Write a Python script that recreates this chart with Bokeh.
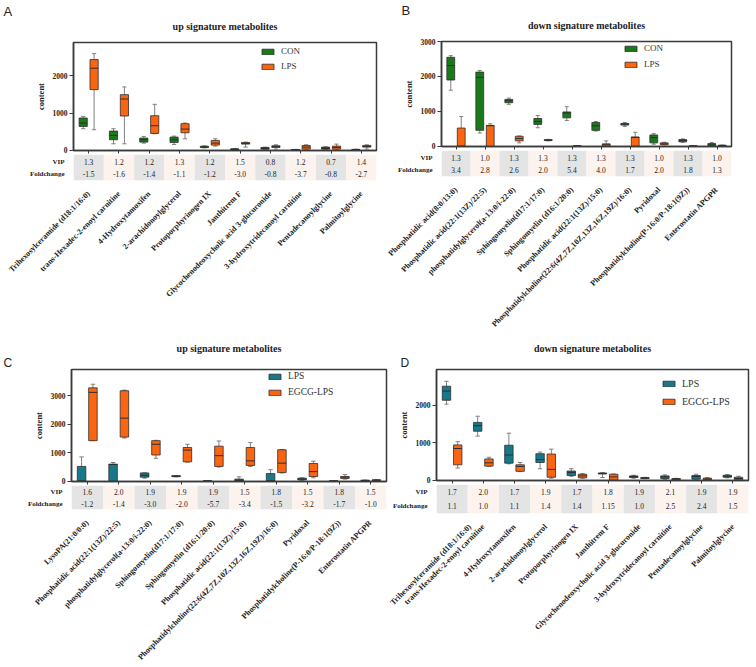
import math
from bokeh.plotting import figure
from bokeh.layouts import column, row
from bokeh.models import (FactorRange, Range1d, FixedTicker, Legend, LegendItem,
                          Title, ColumnDataSource)
from bokeh.core.properties import value
from bokeh.transform import dodge
from bokeh.embed import file_html
from bokeh.resources import INLINE

SERIF = "Liberation Serif"
SANS = "Liberation Sans"
GREEN = "#1a7a1a"
ORANGE = "#fb6512"
TEAL = "#16788a"
EDGE = "#2e2e2e"
WHISK = "#808080"
CELL_A = "#e4e4e4"
CELL_B = "#fcf3ee"

# ---------------- data (min, q1, median, q3, max) ----------------
A_CATS = ["Trihexosylceramide (d18:1/16:0)", "trans-Hexadec-2-enoyl carnitine",
          "4-Hydroxytamoxifen", "2-arachidonoylglycerol", "Protoporphyrinogen IX",
          "Janthitrem F", "Glycochenodeoxycholic acid 3-glucuronide",
          "3-hydroxytridecanoyl carnitine", "Pentadecanoylglycine", "Palmitoylglycine"]
A_CON = [(577, 640, 730, 865, 910), (171, 280, 396, 513, 577), (189, 216, 280, 324, 369),
         (153, 207, 279, 351, 378), (60, 72, 85, 105, 117), (5, 9, 20, 36, 40),
         (20, 27, 50, 72, 80), (2, 5, 8, 15, 20), (9, 27, 45, 81, 90), (5, 10, 15, 20, 25)]
A_LPS = [(550, 1630, 2207, 2440, 2600), (171, 919, 1378, 1495, 1703), (441, 450, 658, 928, 1234),
         (306, 468, 567, 712, 730), (108, 135, 189, 261, 306), (81, 162, 180, 207, 216),
         (27, 72, 99, 117, 144), (9, 27, 81, 126, 144), (9, 27, 72, 108, 162), (27, 81, 99, 126, 144)]
A_VIP = ["1.3", "1.2", "1.2", "1.3", "1.2", "1.5", "0.8", "1.2", "0.7", "1.4"]
A_FC = ["-1.5", "-1.6", "-1.4", "-1.1", "-1.2", "-3.0", "-0.8", "-3.7", "-0.8", "-2.7"]

B_CATS = ["Phosphatidic acid(8:0/13:0)", "Phosphatidic acid(22:1(13Z)/22:5)",
          "phosphatidylglycerol(a-13:0/i-22:0)", "Sphingomyelin(d17:1/17:0)",
          "Sphingomyelin (d16:1/20:0)", "Phosphatidic acid(22:1(13Z)/15:0)",
          "Phosphatidylcholine(22:6(4Z,7Z,10Z,13Z,16Z,19Z)/16:0)", "Pyridoxal",
          "Phosphatidylcholine(P-16:0/P-18:1(9Z))", "Enterostatin APGPR"]
B_CON = [(1604, 1896, 2311, 2547, 2594), (377, 453, 1972, 2123, 2170), (1198, 1245, 1302, 1340, 1377),
         (528, 623, 708, 792, 877), (736, 811, 953, 981, 1132), (434, 453, 585, 679, 708),
         (566, 604, 632, 651, 679), (57, 94, 245, 321, 358), (113, 123, 160, 189, 208), (0, 19, 38, 75, 104)]
B_LPS = [(0, 0, 0, 519, 849), (0, 0, 585, 594, 642), (94, 151, 217, 283, 292),
         (151, 160, 170, 189, 195), (0, 2, 5, 10, 12), (0, 0, 38, 66, 151),
         (0, 0, 250, 264, 396), (38, 38, 66, 94, 113), (0, 2, 5, 8, 10), (5, 9, 20, 28, 30)]
B_VIP = ["1.3", "1.0", "1.3", "1.3", "1.3", "1.3", "1.3", "1.0", "1.3", "1.0"]
B_FC = ["3.4", "2.8", "2.6", "2.0", "5.4", "4.0", "1.7", "2.0", "1.8", "1.3"]

C_CATS = ["LysoPA(21:0/0:0)"] + B_CATS[1:]
C_LPS = [(0, 0, 0, 515, 848), (0, 0, 580, 596, 653), (103, 137, 206, 286, 290),
         (149, 155, 172, 190, 195), (0, 2, 5, 8, 10), (0, 0, 23, 69, 149),
         (0, 0, 10, 263, 401), (23, 40, 70, 103, 115), (0, 2, 4, 6, 8), (11, 15, 23, 30, 34)]
C_EGCG = [(1420, 1420, 3116, 3276, 3402), (1512, 1546, 2211, 3173, 3196), (802, 916, 1294, 1420, 1432),
          (664, 676, 1088, 1180, 1294), (493, 515, 893, 1226, 1409), (515, 550, 710, 1180, 1352),
          (286, 298, 630, 1100, 1111), (115, 160, 332, 619, 699), (69, 92, 137, 160, 229), (11, 15, 30, 46, 50)]
C_VIP = ["1.6", "2.0", "1.9", "1.9", "1.9", "1.5", "1.8", "1.5", "1.8", "1.5"]
C_FC = ["-1.2", "-1.4", "-3.0", "-2.0", "-5.7", "-3.4", "-1.5", "-3.2", "-1.7", "-1.0"]

D_CATS = A_CATS
D_LPS = [(2026, 2130, 2374, 2504, 2635), (1174, 1304, 1452, 1539, 1704), (435, 452, 670, 930, 1252),
         (304, 470, 548, 704, 748), (104, 122, 200, 243, 304), (70, 165, 175, 191, 200),
         (52, 70, 96, 113, 130), (17, 43, 87, 113, 139), (10, 26, 96, 122, 157), (61, 78, 104, 130, 148)]
D_EGCG = [(322, 409, 843, 939, 1026), (365, 374, 461, 565, 609), (226, 235, 365, 409, 470),
          (52, 78, 287, 696, 826), (52, 61, 113, 157, 174), (0, 0, 87, 157, 165),
          (35, 43, 55, 70, 75), (5, 9, 25, 43, 48), (5, 9, 30, 52, 70), (5, 9, 43, 78, 104)]
D_VIP = ["1.7", "2.0", "1.7", "1.9", "1.7", "1.8", "1.9", "2.1", "1.9", "1.9"]
D_FC = ["1.1", "1.0", "1.1", "1.4", "1.4", "1.15", "1.0", "2.5", "2.4", "1.5"]

BW = 0.27   # box width (fraction of a category)
CW = 0.14   # whisker cap width
OFF = 0.18  # group offset


def draw_group(p, cats, stats, off, color):
    src = ColumnDataSource(dict(cat=cats,
                                lo=[s[0] for s in stats], q1=[s[1] for s in stats],
                                med=[s[2] for s in stats], q3=[s[3] for s in stats],
                                hi=[s[4] for s in stats]))
    xr = p.x_range
    xc = dodge("cat", off, range=xr)
    p.segment(x0=xc, y0="lo", x1=xc, y1="hi", source=src, line_color=WHISK, line_width=1)
    for key in ("lo", "hi"):
        p.segment(x0=dodge("cat", off - CW / 2, range=xr), y0=key,
                  x1=dodge("cat", off + CW / 2, range=xr), y1=key,
                  source=src, line_color=WHISK, line_width=1)
    r = p.vbar(x=xc, bottom="q1", top="q3", width=BW, source=src,
               fill_color=color, line_color=EDGE, line_width=0.8)
    p.segment(x0=dodge("cat", off - BW / 2, range=xr), y0="med",
              x1=dodge("cat", off + BW / 2, range=xr), y1="med",
              source=src, line_color=EDGE, line_width=1)
    return r


def make_title(text, align, offset, standoff, font, size, bold):
    return Title(text=text, align=align, offset=offset, standoff=standoff, text_font=font,
                 text_font_size=size, text_font_style="bold" if bold else "normal",
                 text_color="#222222")


def make_panel(letter, title, cats, g1, s1, c1, g2, s2, c2, vip, fc, yr, yticks,
               width, ml, mr, hp, mt, ht, mbt, legend_xy, letter_off, legend_sp, legend_fs,
               letter_inner, title_so, letter_so):
    n = len(cats)
    p = figure(x_range=FactorRange(*cats), y_range=Range1d(*yr), width=width, height=hp,
               output_backend="svg", toolbar_location=None, title_location=None,
               min_border_left=ml, min_border_right=mr, min_border_top=mt, min_border_bottom=4)
    if letter_inner:
        t_let = make_title(letter, "left", letter_off, letter_so, SANS, "12px", False)
        t_main = make_title(title, "center", 0, title_so, SERIF, "10px", True)
        p.add_layout(t_let, "above")
        p.add_layout(t_main, "above")
    else:
        # a blank second line keeps the title lifted above the frame
        t_main = make_title(title + "\n", "center", 0, title_so, SERIF, "10px", True)
        t_let = make_title(letter, "left", letter_off, letter_so, SANS, "13px", False)
        p.add_layout(t_main, "above")
        p.add_layout(t_let, "above")
    p.xgrid.visible = False
    p.ygrid.visible = False
    p.outline_line_color = "#3a3a3a"
    p.outline_line_width = 1.5
    p.background_fill_color = "white"

    ya = p.yaxis[0]
    ya.ticker = FixedTicker(ticks=yticks)
    ya.axis_label = "content"
    ya.axis_label_text_font = SERIF
    ya.axis_label_text_font_style = "bold"
    ya.axis_label_text_font_size = "8.5px"
    ya.axis_label_standoff = 4
    ya.axis_label_text_color = "#222222"
    ya.major_label_text_font = SERIF
    ya.major_label_text_font_style = "bold"
    ya.major_label_text_font_size = "7.5px"
    ya.major_label_text_color = "#222222"
    ya.major_label_standoff = 2
    ya.major_tick_out = 4
    ya.major_tick_in = 0
    ya.minor_tick_out = 0
    ya.minor_tick_in = 0
    ya.axis_line_width = 1.5
    ya.axis_line_color = "#3a3a3a"
    ya.major_tick_line_color = "#3a3a3a"
    ya.major_tick_line_width = 1.2

    # tick marks under each category; the names are shown under the table instead
    xa = p.xaxis[0]
    xa.major_label_text_font_size = "1px"
    xa.major_label_text_color = None
    xa.major_label_standoff = 0
    xa.major_tick_out = 3
    xa.major_tick_in = 0
    xa.axis_line_width = 1.5
    xa.axis_line_color = "#3a3a3a"
    xa.major_tick_line_color = "#3a3a3a"

    r1 = draw_group(p, cats, s1, -OFF, c1)
    r2 = draw_group(p, cats, s2, OFF, c2)

    leg = Legend(items=[LegendItem(label=g1, renderers=[r1]), LegendItem(label=g2, renderers=[r2])],
                 location=legend_xy, orientation="vertical", border_line_color=None,
                 background_fill_alpha=0, padding=0, margin=0, spacing=legend_sp,
                 glyph_width=15, glyph_height=7, label_height=9, label_standoff=6,
                 label_text_font=SERIF, label_text_font_size=legend_fs,
                 label_text_color="#333333", label_text_baseline="middle")
    p.add_layout(leg)

    # table + rotated labels
    t = figure(x_range=p.x_range, y_range=Range1d(0, 2), width=width, height=ht,
               output_backend="svg", toolbar_location=None,
               min_border_left=ml, min_border_right=mr, min_border_top=0, min_border_bottom=mbt)
    t.outline_line_color = None
    t.xgrid.visible = False
    t.ygrid.visible = False
    bg = [CELL_A if i % 2 == 0 else CELL_B for i in range(n)]
    t.vbar(x=cats, bottom=0, top=2, width=1.0, fill_color=bg, line_color=None)
    t.text(x=cats, y=[1.45] * n, text=vip, text_align="center", text_baseline="middle",
           text_font=value(SERIF), text_font_size="7.5px", text_color="#222222")
    t.text(x=cats, y=[0.5] * n, text=fc, text_align="center", text_baseline="middle",
           text_font=value(SERIF), text_font_size="7.5px", text_color="#222222")
    ty = t.yaxis[0]
    ty.ticker = FixedTicker(ticks=[0.5, 1.45])
    ty.major_label_overrides = {0.5: "Foldchange", 1.45: "VIP"}
    ty.axis_line_color = None
    ty.major_tick_line_color = None
    ty.minor_tick_line_color = None
    ty.major_label_standoff = 3
    ty.major_label_text_font = SERIF
    ty.major_label_text_font_style = "bold"
    ty.major_label_text_font_size = "7px"
    ty.major_label_text_color = "#222222"
    tx = t.xaxis[0]
    tx.axis_line_color = None
    tx.major_tick_line_color = None
    tx.major_label_orientation = math.pi / 4
    tx.major_label_standoff = 6
    tx.major_label_text_font = SERIF
    tx.major_label_text_font_style = "bold"
    tx.major_label_text_font_size = "8px"
    tx.major_label_text_color = "#222222"
    return column(p, t)


pa = make_panel("A", "up signature metabolites", A_CATS, "CON", A_CON, GREEN, "LPS", A_LPS, ORANGE,
                A_VIP, A_FC, (-10, 2900), [0, 1000, 2000],
                378, 73, 2, 154, 42, 186, 160, (187, 79), -70, 5, "9px", False, 0, 0)
pb = make_panel("B", "down signature metabolites", B_CATS, "CON", B_CON, GREEN, "LPS", B_LPS, ORANGE,
                B_VIP, B_FC, (-10, 3000), [0, 1000, 2000, 3000],
                378, 63, 25, 150, 40, 190, 164, (182, 77), -40, 6, "9px", False, 0, 0)
pc = make_panel("C", "up signature metabolites", C_CATS, "LPS", C_LPS, TEAL, "EGCG-LPS", C_EGCG, ORANGE,
                C_VIP, C_FC, (-15, 3920), [0, 1000, 2000, 3000],
                388, 71, 2, 145, 27, 182, 154, (196, 84), -68, 6, "9.5px", True, 0, 0)
pd = make_panel("D", "down signature metabolites", D_CATS, "LPS", D_LPS, TEAL, "EGCG-LPS", D_EGCG, ORANGE,
                D_VIP, D_FC, (-10, 2950), [0, 1000, 2000],
                368, 48, 8, 144, 27, 183, 154, (225, 73), -36, 7, "10px", True, 0, 0)

layout = column(row(pa, pb), row(pc, pd))
open("out.html", "w").write(file_html(layout, INLINE))
